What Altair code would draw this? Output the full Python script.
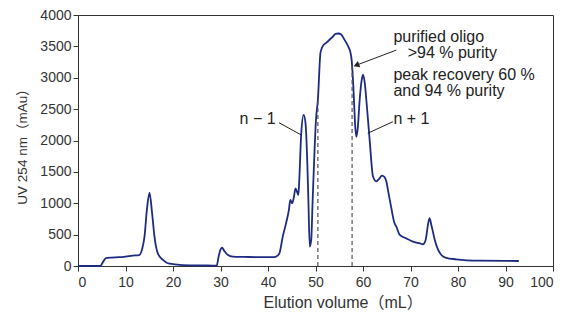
import altair as alt
import pandas as pd

# Chromatogram trace (elution volume mL, UV 254 nm mAu)
vol = [0, 4.7, 5.3, 5.9, 7, 8.7, 10, 11.5, 12.9, 13.5, 14.0, 14.5, 15.05, 15.6, 16.1, 16.8, 17.9, 19, 22, 26,
       29.2, 29.6, 30.0, 30.3, 30.8, 31.5, 32.6, 35, 38, 41.0, 41.7, 42.4, 43.1, 43.8, 44.4, 44.7, 45.1, 45.4,
       45.8, 46.1, 46.4, 46.6, 47.0, 47.5, 47.9, 48.3, 48.5, 48.8, 49.1, 49.4, 49.8, 50.1, 50.5, 51.05, 51.5,
       52.3, 53.0, 53.6, 54.2, 54.8, 55.4, 56.0, 56.5, 57.0, 57.3, 57.6, 58.1, 58.3, 58.6, 58.9, 59.3, 59.7,
       60.0, 60.4, 60.7, 61.4, 62.1, 62.8, 63.4, 64.0, 64.5, 64.9, 65.4, 65.9, 66.6, 67.0, 67.7, 69.1, 70.5,
       72.0, 72.6, 73.2, 73.6, 74.0, 74.4, 75.1, 75.8, 76.5, 77.5, 79.6, 84.5, 92.8]
uv = [0, 0, 70, 125, 135, 140, 150, 165, 175, 270, 467, 893, 1168, 840, 467, 202, 96, 40, 15, 10,
      5, 150, 260, 293, 240, 180, 150, 145, 140, 140, 150, 202, 467, 680, 893, 1052, 1000, 1079,
      1238, 1185, 1132, 1400, 2115, 2407, 2275, 1583, 1052, 308, 414, 1052, 1850, 2327, 2646, 3400, 3500,
      3560, 3610, 3650, 3700, 3705, 3690, 3620, 3555, 3480, 3420, 3290, 2650, 2300, 2060, 2200, 2650, 2950,
      3050, 2900, 2650, 2010, 1430, 1350, 1390, 1440, 1420, 1350, 1150, 950, 690, 630, 500, 440, 389,
      360, 347, 420, 620, 763, 650, 420, 260, 176, 130, 107, 85, 80]

# Fraction cut lines
cut_x = [50.5, 57.7]
cut_top = [2646, 3216]

# Leader lines (n-1, n+1)
lead_x = [42.3, 66.3]
lead_y = [2284, 2300]
lead_x2 = [47.0, 61.0]
lead_y2 = [2088, 2115]

# Arrow for purified oligo
arrow_x, arrow_y, arrow_x2, arrow_y2 = [67.0], [3440], [58.6], [3200]
head_x, head_y = [58.6], [3200]

# Labels
lab_text = ["n − 1", "n + 1", "purified oligo", ">94 % purity", "peak recovery 60 %", "and 94 % purity"]
lab_x = [41.6, 66.4, 66.4, 69.4, 66.4, 66.4]
lab_y = [2336, 2336, 3645, 3390, 3045, 2794]
lab_align = ["right", "left", "left", "left", "left", "left"]

FONT = "Liberation Sans, Arial, Noto Sans CJK JP, sans-serif"
LINE = "#1e2b82"

df = pd.DataFrame({"vol": vol, "uv": uv})
cuts = pd.DataFrame({"x": cut_x, "y": [0, 0], "y2": cut_top})
leads = pd.DataFrame({"x": lead_x, "y": lead_y, "x2": lead_x2, "y2": lead_y2})
arrow = pd.DataFrame({"x": arrow_x, "y": arrow_y, "x2": arrow_x2, "y2": arrow_y2})
head = pd.DataFrame({"x": head_x, "y": head_y})
labels = pd.DataFrame({"t": lab_text, "x": lab_x, "y": lab_y, "a": lab_align})

xscale = alt.Scale(domain=[0, 100], nice=False)
yscale = alt.Scale(domain=[0, 4000], nice=False)

xaxis = alt.Axis(title="Elution volume（mL）", values=list(range(0, 101, 10)), format="d",
                 grid=False, tickSize=5, labelPadding=4, titlePadding=5, titleFontSize=16,
                 titleAnchor="start", titleAlign="left", titleX=185, labelOverlap=False)
yaxis = alt.Axis(title="UV 254 nm（mAu）", values=list(range(0, 4001, 500)), format="d",
                 grid=False, tickSize=5, labelPadding=2, titlePadding=10, titleFontSize=13.5,
                 titleY=128, labelOverlap=False)


def X(f):
    return alt.X(f, scale=xscale, axis=xaxis, title="Elution volume（mL）")


def Y(f):
    return alt.Y(f, scale=yscale, axis=yaxis, title="UV 254 nm（mAu）")


line = alt.Chart(df).mark_line(color=LINE, strokeWidth=1.8, interpolate="monotone").encode(
    x=X("vol:Q"), y=Y("uv:Q"))

cut = alt.Chart(cuts).mark_rule(color="#555555", strokeDash=[4, 3], strokeWidth=1.2).encode(
    x=X("x:Q"), y=Y("y:Q"), y2="y2:Q")

lead = alt.Chart(leads).mark_rule(color="#222222", strokeWidth=1).encode(
    x=X("x:Q"), y=Y("y:Q"), x2="x2:Q", y2="y2:Q")

arr = alt.Chart(arrow).mark_rule(color="#222222", strokeWidth=1).encode(
    x=X("x:Q"), y=Y("y:Q"), x2="x2:Q", y2="y2:Q")

hd = alt.Chart(head).mark_point(shape="triangle-up", filled=True, color="#222222", size=45,
                                 opacity=1, angle=249).encode(x=X("x:Q"), y=Y("y:Q"))

txt_left = alt.Chart(labels[labels.a == "left"]).mark_text(
    align="left", baseline="middle", font=FONT, fontSize=16, color="#222222").encode(
    x=X("x:Q"), y=Y("y:Q"), text="t:N")
txt_right = alt.Chart(labels[labels.a == "right"]).mark_text(
    align="right", baseline="middle", font=FONT, fontSize=16, color="#222222").encode(
    x=X("x:Q"), y=Y("y:Q"), text="t:N")

chart = alt.layer(line, cut, lead, arr, hd, txt_left, txt_right).properties(
    width=475, height=251,
    autosize=alt.AutoSizeParams(type="none"),
    padding={"left": 70, "top": 7, "right": 20, "bottom": 50},
    background="white",
).configure_view(stroke="#333333", strokeWidth=1).configure_axis(
    domainColor="#333333", tickColor="#333333", labelColor="#333333", titleColor="#333333",
    labelFont=FONT, titleFont=FONT, labelFontSize=14, titleFontWeight="normal",
    domainWidth=1, tickWidth=1,
)

chart.save("out.html", embed_options={"renderer": "svg", "actions": False})
